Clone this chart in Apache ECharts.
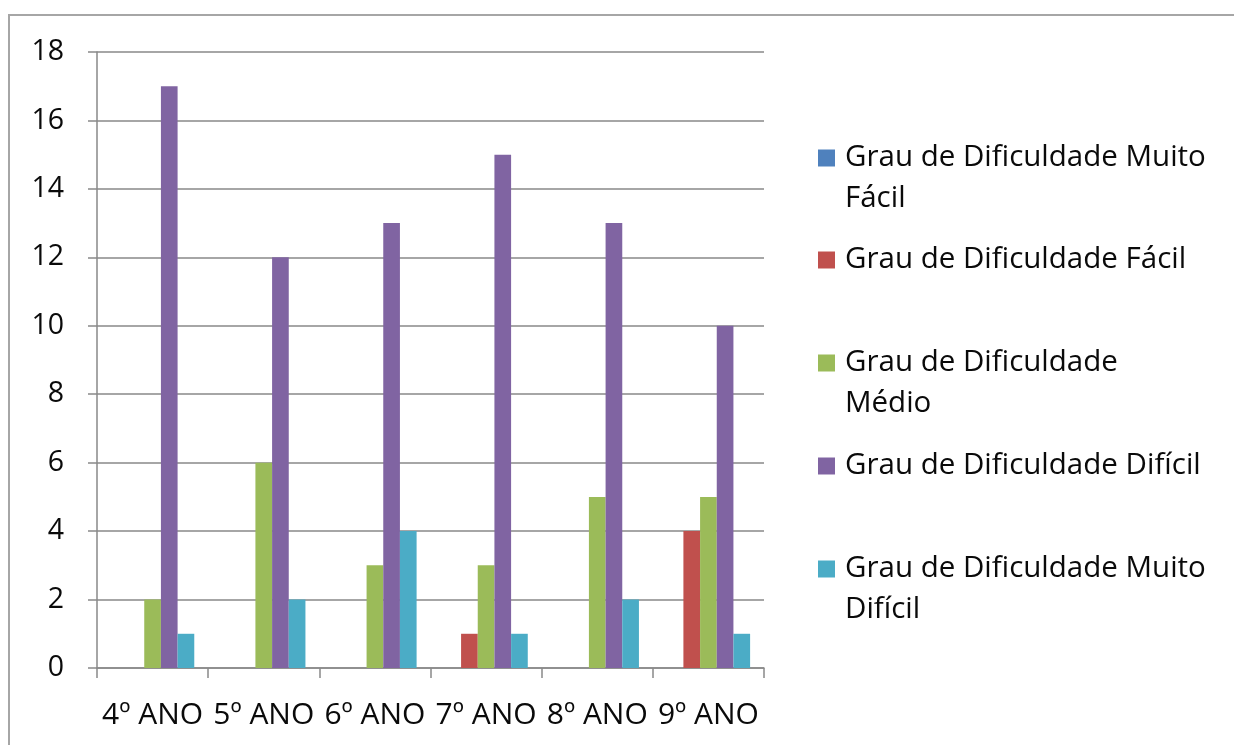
<!DOCTYPE html>
<html>
<head>
<meta charset="utf-8">
<script src="https://cdn.jsdelivr.net/npm/echarts@6/dist/echarts.min.js"></script>
<style>html,body{margin:0;padding:0;background:#fff;}#c{width:1234px;height:745px;}</style>
</head>
<body>
<div id="c"></div>
<script>
const categories = ['4º ANO', '5º ANO', '6º ANO', '7º ANO', '8º ANO', '9º ANO'];
const seriesNames = [
  'Grau de Dificuldade Muito Fácil',
  'Grau de Dificuldade Fácil',
  'Grau de Dificuldade Médio',
  'Grau de Dificuldade Difícil',
  'Grau de Dificuldade Muito Difícil'
];
const muitoFacil = [0, 0, 0, 0, 0, 0];
const facil = [0, 0, 0, 1, 0, 4];
const medio = [2, 6, 3, 3, 5, 5];
const dificil = [17, 12, 13, 15, 13, 10];
const muitoDificil = [1, 2, 4, 1, 2, 1];
const yTicks = [0, 2, 4, 6, 8, 10, 12, 14, 16, 18];

const values = [muitoFacil, facil, medio, dificil, muitoDificil];
const colors = ['#4F81BD', '#C0504D', '#9BBB59', '#8064A2', '#4BACC6'];
const legendLabels = {
  'Grau de Dificuldade Muito Fácil': ['Grau de Dificuldade Muito', 'Fácil'],
  'Grau de Dificuldade Fácil': ['Grau de Dificuldade Fácil'],
  'Grau de Dificuldade Médio': ['Grau de Dificuldade', 'Médio'],
  'Grau de Dificuldade Difícil': ['Grau de Dificuldade Difícil'],
  'Grau de Dificuldade Muito Difícil': ['Grau de Dificuldade Muito', 'Difícil']
};
const FONT = '"Open Sans"';
const FS = 29.5;
const firstLineCenters = [158, 260, 363, 466, 569];
const LH = 41;
const TEXT = '#0a0a0a';

const legends = seriesNames.map((n, i) => {
  const lines = legendLabels[n];
  const twoLine = lines.length > 1;
  return {
    data: [n],
    left: 818,
    top: twoLine ? firstLineCenters[i] - 1.5 * LH : firstLineCenters[i] - LH / 2,
    padding: 0,
    itemWidth: 17,
    itemHeight: 17,
    icon: 'rect',
    selectedMode: false,
    // a leading blank line keeps the icon level with the first text line
    formatter: (name) => (legendLabels[name].length > 1 ? '\u200b\n' : '') + legendLabels[name].join('\n'),
    textStyle: {
      fontFamily: FONT,
      fontSize: FS,
      color: TEXT,
      lineHeight: LH,
      padding: [0, 0, 0, 5]
    }
  };
});

const chart = echarts.init(document.getElementById('c'), null, {renderer: 'canvas'});
chart.setOption({
  animation: false,
  backgroundColor: '#fff',
  color: colors,
  graphic: [{
    type: 'rect',
    shape: {x: 9, y: 15, width: 1300, height: 800},
    style: {fill: 'none', stroke: '#a6a6a6', lineWidth: 2},
    silent: true
  }],
  legend: legends,
  grid: {left: 97, top: 52, right: 470, bottom: 77, containLabel: false},
  xAxis: {
    type: 'category',
    data: categories,
    boundaryGap: true,
    axisLine: {lineStyle: {color: '#898989', width: 1.5}},
    axisTick: {show: true, length: 10, alignWithLabel: false, lineStyle: {color: '#898989', width: 1.5}},
    axisLabel: {interval: 0, margin: 32, fontFamily: FONT, fontSize: 30, color: TEXT}
  },
  yAxis: {
    type: 'value',
    min: yTicks[0],
    max: yTicks[yTicks.length - 1],
    interval: 2,
    axisLine: {show: true, lineStyle: {color: '#898989', width: 1.5}},
    axisTick: {show: true, length: 9, lineStyle: {color: '#898989', width: 1.5}},
    splitLine: {show: true, lineStyle: {color: '#898989', width: 1.5}},
    axisLabel: {margin: 33, fontFamily: FONT, fontSize: 28.5, color: TEXT}
  },
  series: seriesNames.map((n, i) => ({
    name: n,
    type: 'bar',
    data: values[i],
    barGap: '0%',
    barCategoryGap: '25%',
    itemStyle: {color: colors[i]}
  }))
});
</script>
</body>
</html>
